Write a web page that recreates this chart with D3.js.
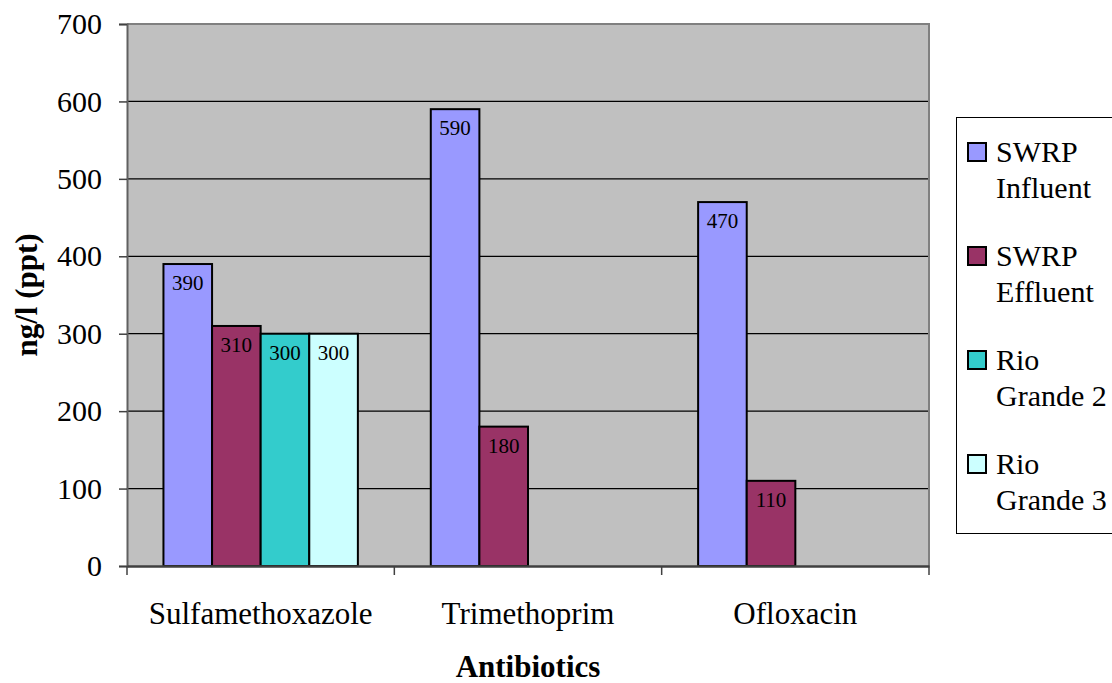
<!DOCTYPE html>
<html>
<head>
<meta charset="utf-8">
<script src="https://cdn.jsdelivr.net/npm/d3@7"></script>
<style>
  html, body { margin: 0; padding: 0; background: #ffffff; }
  svg { display: block; }
</style>
</head>
<body>
<svg id="chart" width="1112" height="683"></svg>
<script>
// Antibiotic concentrations (ng/l) by sampling site
const categories = ["Sulfamethoxazole", "Trimethoprim", "Ofloxacin"];
const seriesNames = ["SWRP Influent", "SWRP Effluent", "Rio Grande 2", "Rio Grande 3"];
const legendLines = [["SWRP", "Influent"], ["SWRP", "Effluent"], ["Rio", "Grande 2"], ["Rio", "Grande 3"]];
const swrpInfluent = [390, 590, 470];
const swrpEffluent = [310, 180, 110];
const rioGrande2 = [300, null, null];
const rioGrande3 = [300, null, null];
const yTicks = [0, 100, 200, 300, 400, 500, 600, 700];
const colors = ["#9999FF", "#993366", "#33CCCC", "#CCFFFF"];

const seriesValues = [swrpInfluent, swrpEffluent, rioGrande2, rioGrande3];
const SERIF = "'Liberation Serif'";

const svg = d3.select("#chart");
const plot = { left: 127, right: 929, top: 24, bottom: 566 };

const x0 = d3.scaleBand().domain(categories).range([plot.left, plot.right]).padding(0);
const x1 = d3.scaleBand().domain(seriesNames).range([0, x0.bandwidth()])
  .paddingInner(0).paddingOuter(0.75);
const y = d3.scaleLinear().domain([0, 700]).range([plot.bottom, plot.top]);

// plot background
svg.append("rect")
  .attr("x", plot.left).attr("y", plot.top)
  .attr("width", plot.right - plot.left).attr("height", plot.bottom - plot.top)
  .attr("fill", "#C0C0C0");

// gridlines
svg.append("g").selectAll("line").data(yTicks.filter(d => d > 0 && d < 700)).join("line")
  .attr("x1", plot.left).attr("x2", plot.right)
  .attr("y1", d => y(d)).attr("y2", d => y(d))
  .attr("stroke", "#000").attr("stroke-width", 1.2);

// top and right frame
svg.append("path")
  .attr("d", `M${plot.left},${plot.top}H${plot.right}V${plot.bottom}`)
  .attr("fill", "none").attr("stroke", "#808080").attr("stroke-width", 2);

// bars
const rows = categories.map((c, i) => ({ cat: c, vals: seriesNames.map((s, j) => ({ s, j, v: seriesValues[j][i] })) }));
const groups = svg.append("g").selectAll("g").data(rows).join("g")
  .attr("transform", d => `translate(${x0(d.cat)},0)`);

groups.selectAll("rect").data(d => d.vals.filter(e => e.v != null)).join("rect")
  .attr("x", d => x1(d.s)).attr("width", x1.bandwidth())
  .attr("y", d => y(d.v)).attr("height", d => y(0) - y(d.v))
  .attr("fill", d => colors[d.j]).attr("stroke", "#000").attr("stroke-width", 2);

groups.selectAll("text").data(d => d.vals.filter(e => e.v != null)).join("text")
  .attr("x", d => x1(d.s) + x1.bandwidth() / 2)
  .attr("y", d => y(d.v) + 26)
  .attr("text-anchor", "middle").attr("fill", "#000")
  .style("font-family", SERIF).style("font-size", "21px")
  .text(d => d.v);

// y axis
const yAxis = svg.append("g").attr("transform", `translate(${plot.left},0)`)
  .call(d3.axisLeft(y).tickValues(yTicks).tickSize(8).tickPadding(17).tickFormat(d3.format("d")));
yAxis.attr("font-family", null);
yAxis.select(".domain").attr("stroke", "#606060").attr("stroke-width", 2);
yAxis.selectAll(".tick line").attr("stroke", "#404040").attr("stroke-width", 1.5);
yAxis.selectAll(".tick text").attr("fill", "#000")
  .style("font-family", SERIF).style("font-size", "30px");

// x axis
const xAxis = svg.append("g").attr("transform", `translate(0,${plot.bottom})`)
  .call(d3.axisBottom(x0).tickSize(0).tickPadding(36));
xAxis.attr("font-family", null);
xAxis.select(".domain").attr("stroke", "#404040").attr("stroke-width", 2.5);
xAxis.selectAll(".tick text").attr("fill", "#000")
  .style("font-family", SERIF).style("font-size", "31px");
// category boundary ticks
const bounds = categories.map(c => x0(c)).concat([plot.right]);
svg.append("g").selectAll("line").data(bounds).join("line")
  .attr("x1", d => d).attr("x2", d => d)
  .attr("y1", plot.bottom).attr("y2", plot.bottom + 9)
  .attr("stroke", "#404040").attr("stroke-width", 1.5);

// axis titles
svg.append("text")
  .attr("x", (plot.left + plot.right) / 2).attr("y", 677)
  .attr("text-anchor", "middle")
  .style("font-family", SERIF).style("font-size", "31px").style("font-weight", "bold")
  .text("Antibiotics");
svg.append("text")
  .attr("transform", `translate(37,${(plot.top + plot.bottom) / 2}) rotate(-90)`)
  .attr("text-anchor", "middle")
  .style("font-family", SERIF).style("font-size", "31px").style("font-weight", "bold")
  .text("ng/l (ppt)");

// legend
const legend = svg.append("g");
legend.append("rect")
  .attr("x", 956.5).attr("y", 117.5).attr("width", 170).attr("height", 416)
  .attr("fill", "#fff").attr("stroke", "#000").attr("stroke-width", 1);
const items = legend.selectAll("g").data(seriesNames).join("g")
  .attr("transform", (d, i) => `translate(968,${143 + i * 104})`);
items.append("rect")
  .attr("x", 0).attr("y", 0).attr("width", 18).attr("height", 18)
  .attr("fill", (d, i) => colors[i]).attr("stroke", "#000").attr("stroke-width", 2);
items.append("text").attr("x", 28).attr("y", 19)
  .style("font-family", SERIF).style("font-size", "30px")
  .text((d, i) => legendLines[i][0]);
items.append("text").attr("x", 28).attr("y", 55)
  .style("font-family", SERIF).style("font-size", "30px")
  .text((d, i) => legendLines[i][1]);
</script>
</body>
</html>
